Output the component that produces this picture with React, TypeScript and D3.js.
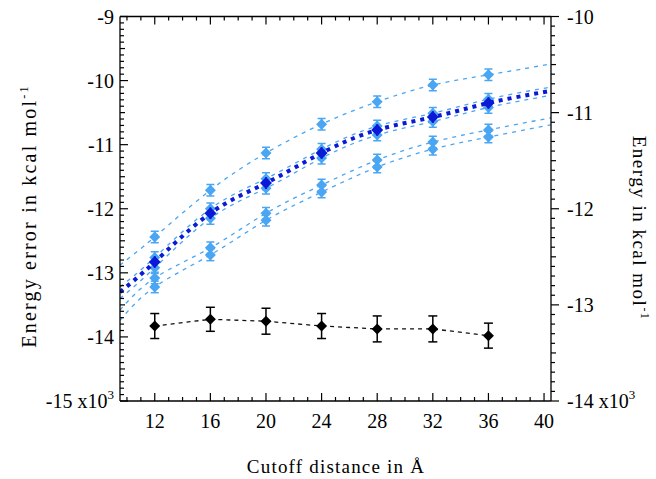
import React from "react";
import * as d3 from "d3";

// ---------- data ----------
const cutoffs = [12, 16, 20, 24, 28, 32, 36];
// blue series (left axis, x10^3 kcal/mol)
const mainSeries = [-12.83, -12.07, -11.6, -11.13, -10.77, -10.57, -10.35];
const topSeries = [-12.44, -11.71, -11.13, -10.68, -10.33, -10.07, -9.91];
const nearAboveSeries = [-12.76, -12.0, -11.53, -11.07, -10.71, -10.51, -10.29];
const nearBelowSeries = [-12.92, -12.15, -11.68, -11.21, -10.85, -10.64, -10.42];
const lowSeries1 = [-13.08, -12.61, -12.07, -11.63, -11.24, -10.96, -10.77];
const lowSeries2 = [-13.22, -12.72, -12.18, -11.74, -11.35, -11.07, -10.88];
const blueErr = 0.09;
// fitted curves, values at plot edges (x = 9.5 and 40.5)
const fitEdgesX = [9.5, 40.5];
const mainFitEdges = [-13.3, -10.16];
const topFitEdges = [-12.88, -9.74];
const nearAboveFitEdges = [-13.22, -10.1];
const nearBelowFitEdges = [-13.4, -10.23];
const low1FitEdges = [-13.58, -10.58];
const low2FitEdges = [-13.74, -10.69];
// black series (right axis)
const blackSeries = [-13.22, -13.15, -13.17, -13.22, -13.25, -13.25, -13.32];
const blackErr = [0.13, 0.125, 0.135, 0.13, 0.135, 0.135, 0.13];

const xTicks = [12, 16, 20, 24, 28, 32, 36, 40];
const leftTicks = [-15, -14, -13, -12, -11, -10, -9];
const rightTicks = [-14, -13, -12, -11, -10];

const LIGHT = "#4aa6f2";
const DARK = "#0a1ad6";
const FONT = "'Liberation Serif', 'DejaVu Serif', serif";

export default function App() {
  const L = 120, R = 551, T = 16.5, B = 401;
  const x = d3.scaleLinear().domain([9.5, 40.5]).range([L, R]);
  const yL = d3.scaleLinear().domain([-15, -9]).range([B, T]);
  const yR = d3.scaleLinear().domain([-14, -10]).range([B, T]);

  const curve = (vals: number[], edges: number[]) => {
    const pts: [number, number][] = [[fitEdgesX[0], edges[0]]];
    cutoffs.forEach((c, i) => pts.push([c, vals[i]]));
    pts.push([fitEdgesX[1], edges[1]]);
    return d3
      .line<[number, number]>()
      .x((d) => x(d[0]))
      .y((d) => yL(d[1]))
      .curve(d3.curveNatural)(pts) as string;
  };

  const diamond = (cx: number, cy: number, r: number) =>
    `M${cx},${cy - r}L${cx + r},${cy}L${cx},${cy + r}L${cx - r},${cy}Z`;

  const lightSets = [
    [topSeries, topFitEdges],
    [nearAboveSeries, nearAboveFitEdges],
    [nearBelowSeries, nearBelowFitEdges],
    [lowSeries1, low1FitEdges],
    [lowSeries2, low2FitEdges],
  ] as [number[], number[]][];

  const xMinor = d3.range(10, 41, 1);
  const leftMinor = d3.range(0, 61).map((i) => -15 + i * 0.1);
  const rightMinor = d3.range(0, 41).map((i) => -14 + i * 0.1);

  const blackLine = d3
    .line<number>()
    .x((_, i) => x(cutoffs[i]))
    .y((d) => yR(d))(blackSeries) as string;

  return (
    <svg
      width={656}
      height={479}
      style={{ position: "absolute", left: 0, top: 0, background: "#fff" }}
      fontFamily={FONT}
    >
      <defs>
        <clipPath id="plot">
          <rect x={L} y={T} width={R - L} height={B - T} />
        </clipPath>
      </defs>
      <g clipPath="url(#plot)">
        {lightSets.map(([vals, edges], k) => (
          <path
            key={"lf" + k}
            d={curve(vals, edges)}
            fill="none"
            stroke={LIGHT}
            strokeWidth={1.3}
            strokeDasharray="4 5"
          />
        ))}
        {lightSets.map(([vals], k) =>
          vals.map((v, i) => {
            const cx = x(cutoffs[i]);
            const cy = yL(v);
            const y1 = yL(v + blueErr);
            const y2 = yL(v - blueErr);
            return (
              <g key={`lp${k}-${i}`} fill={LIGHT} stroke={LIGHT}>
                <line x1={cx} x2={cx} y1={y1} y2={y2} strokeWidth={2} />
                <line x1={cx - 4} x2={cx + 4} y1={y1} y2={y1} strokeWidth={1.5} />
                <line x1={cx - 4} x2={cx + 4} y1={y2} y2={y2} strokeWidth={1.5} />
                <path d={diamond(cx, cy, 5.5)} stroke="none" />
              </g>
            );
          })
        )}
        <path
          d={curve(mainSeries, mainFitEdges)}
          fill="none"
          stroke={DARK}
          strokeWidth={4}
          strokeDasharray="4 5"
        />
        {mainSeries.map((v, i) => {
          const cx = x(cutoffs[i]);
          const cy = yL(v);
          return (
            <g key={"mp" + i} fill={DARK} stroke={DARK}>
              <line x1={cx} x2={cx} y1={yL(v + blueErr)} y2={yL(v - blueErr)} strokeWidth={2} />
              <path d={diamond(cx, cy, 6)} stroke="none" />
            </g>
          );
        })}
        <path d={blackLine} fill="none" stroke="#111" strokeWidth={1.3} strokeDasharray="4 4" />
        {blackSeries.map((v, i) => {
          const cx = x(cutoffs[i]);
          const cy = yR(v);
          const y1 = yR(v + blackErr[i]);
          const y2 = yR(v - blackErr[i]);
          return (
            <g key={"bp" + i} stroke="#000" fill="#000">
              <line x1={cx} x2={cx} y1={y1} y2={y2} strokeWidth={1.5} />
              <line x1={cx - 4.5} x2={cx + 4.5} y1={y1} y2={y1} strokeWidth={1.5} />
              <line x1={cx - 4.5} x2={cx + 4.5} y1={y2} y2={y2} strokeWidth={1.5} />
              <path d={diamond(cx, cy, 5.5)} stroke="none" />
            </g>
          );
        })}
      </g>

      <g stroke="#000" strokeWidth={1.3} fill="none">
        <line x1={L} x2={R} y1={B} y2={B} />
        <line x1={L} x2={R} y1={T} y2={T} />
        <line x1={L} x2={L} y1={T} y2={B} />
        <line x1={R} x2={R} y1={T} y2={B} />
      </g>
      <g stroke="#000" strokeWidth={1.2}>
        {xMinor.map((t) => {
          const major = xTicks.includes(t);
          const len = major ? 8 : 4;
          return (
            <g key={"xt" + t}>
              <line x1={x(t)} x2={x(t)} y1={B} y2={B - len} />
              <line x1={x(t)} x2={x(t)} y1={T} y2={T + len} />
            </g>
          );
        })}
        {leftMinor.map((t, i) => {
          const major = i % 10 === 0;
          const half = i % 5 === 0;
          const len = major ? 8 : half ? 5 : 4;
          return <line key={"lt" + i} x1={L} x2={L + len} y1={yL(t)} y2={yL(t)} />;
        })}
        {rightMinor.map((t, i) => {
          const major = i % 10 === 0;
          const half = i % 5 === 0;
          const len = major ? 8 : half ? 5 : 4;
          return <line key={"rt" + i} x1={R} x2={R + len} y1={yR(t)} y2={yR(t)} />;
        })}
      </g>
      <g fontSize={20} fill="#000">
        {xTicks.map((t) => (
          <text key={"xl" + t} x={x(t)} y={428} textAnchor="middle">
            {t}
          </text>
        ))}
        {leftTicks.map((t) => (
          <text key={"yl" + t} x={114} y={yL(t) + 7} textAnchor="end">
            {t === -15 ? (
              <>
                {"-15 x10"}
                <tspan fontSize={13} dy={-9}>3</tspan>
              </>
            ) : (
              t
            )}
          </text>
        ))}
        {rightTicks.map((t) => (
          <text key={"yr" + t} x={567} y={yR(t) + 7} textAnchor="start">
            {t === -14 ? (
              <>
                {"-14 x10"}
                <tspan fontSize={13} dy={-9}>3</tspan>
              </>
            ) : (
              t
            )}
          </text>
        ))}
      </g>
      <text x={336} y={473} textAnchor="middle" fontSize={19} letterSpacing={1.2}>
        Cutoff distance in Å
      </text>
      <text
        transform="translate(36,216) rotate(-90)"
        textAnchor="middle"
        fontSize={20}
        letterSpacing={2.2}
      >
        Energy error in kcal mol
        <tspan fontSize={12} dy={-8}>-1</tspan>
      </text>
      <text
        transform="translate(633,228) rotate(90)"
        textAnchor="middle"
        fontSize={19}
        letterSpacing={1.5}
      >
        Energy in kcal mol
        <tspan fontSize={12} dy={-8}>-1</tspan>
      </text>
    </svg>
  );
}
